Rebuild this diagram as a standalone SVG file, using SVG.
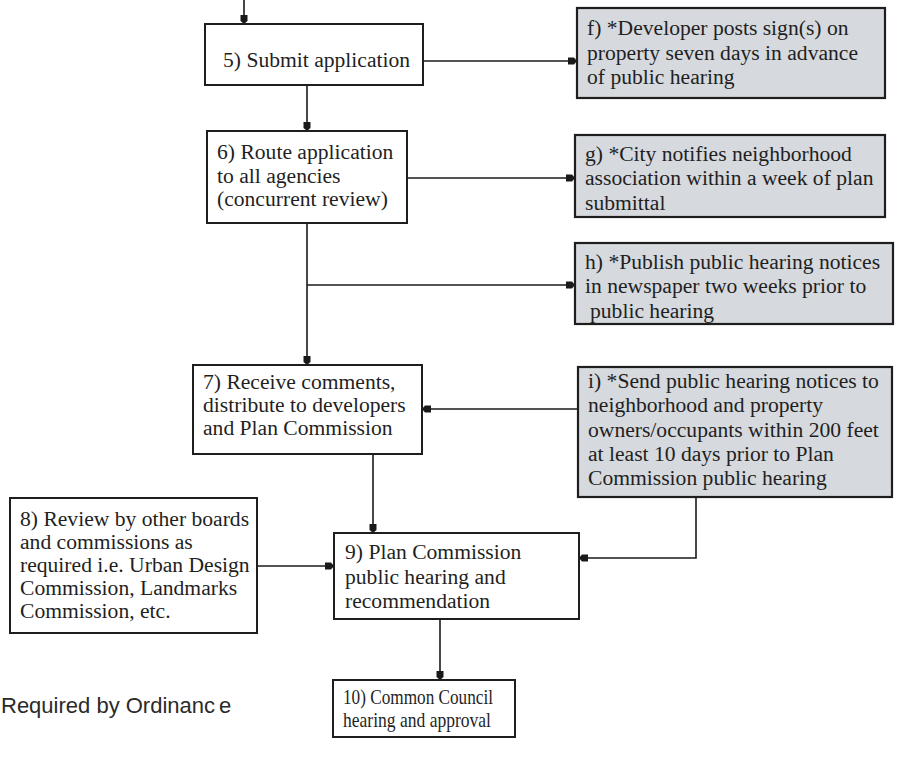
<svg xmlns="http://www.w3.org/2000/svg" width="898" height="772" viewBox="0 0 898 772">
<style>
.box{fill:#ffffff;stroke:#1e1e1e;stroke-width:2}
.req{fill:#d6d9dd;stroke:#1e1e1e;stroke-width:2.2}
.t{font-family:"Liberation Serif","Times New Roman",serif;font-size:21.6px;fill:#1f1f1f}
.s{font-size:21px}
.c{fill:none;stroke:#1a1a1a;stroke-width:1.6}
.leg{font-family:"Liberation Sans",Arial,sans-serif;font-size:22px;fill:#2a2a2a}
</style>
<defs>
<marker id="ah" markerUnits="userSpaceOnUse" markerWidth="12" markerHeight="10" refX="9" refY="5" orient="auto">
<path d="M0,1.5 L6,1.5 L9,5 L6,8.5 L0,8.5 Z" fill="#1a1a1a"/>
</marker>
</defs>
<rect width="898" height="772" fill="#ffffff"/>

<g id="connectors">
<path class="c" d="M244,0 V24" marker-end="url(#ah)"/>
<path class="c" d="M307,85 V131" marker-end="url(#ah)"/>
<path class="c" d="M423,61 H577" marker-end="url(#ah)"/>
<path class="c" d="M407,178 H575" marker-end="url(#ah)"/>
<path class="c" d="M307,223 V365" marker-end="url(#ah)"/>
<path class="c" d="M307,285 H575" marker-end="url(#ah)"/>
<path class="c" d="M578,409 H422" marker-end="url(#ah)"/>
<path class="c" d="M373,454 V533" marker-end="url(#ah)"/>
<path class="c" d="M257,566 H334" marker-end="url(#ah)"/>
<path class="c" d="M696,497 V558 H579" marker-end="url(#ah)"/>
<path class="c" d="M440,619 V680" marker-end="url(#ah)"/>
</g>

<g id="n5">
<rect class="box" x="205" y="24" width="218" height="61"/>
<text class="t" x="223" y="67">5) Submit application</text>
</g>

<g id="nf">
<rect class="req" x="577" y="8" width="308" height="90"/>
<text class="t" x="587" y="35">f) *Developer posts sign(s) on</text>
<text class="t" x="587" y="60">property seven days in advance</text>
<text class="t" x="587" y="84">of public hearing</text>
</g>

<g id="n6">
<rect class="box" x="207" y="131" width="200" height="92"/>
<text class="t" x="217" y="159">6) Route application</text>
<text class="t" x="217" y="183">to all agencies</text>
<text class="t" x="217" y="206">(concurrent review)</text>
</g>

<g id="ng">
<rect class="req" x="575" y="135" width="310" height="82"/>
<text class="t" x="585" y="161">g) *City notifies neighborhood</text>
<text class="t" x="585" y="185">association within a week of plan</text>
<text class="t" x="585" y="210">submittal</text>
</g>

<g id="nh">
<rect class="req" x="575" y="243" width="318" height="81"/>
<text class="t" x="585" y="269">h) *Publish public hearing notices</text>
<text class="t" x="585" y="293">in newspaper two weeks prior to</text>
<text class="t" x="590" y="318">public hearing</text>
</g>

<g id="n7">
<rect class="box" x="193" y="365" width="229" height="89"/>
<text class="t" x="203" y="389">7) Receive comments,</text>
<text class="t" x="203" y="412">distribute to developers</text>
<text class="t" x="203" y="435">and Plan Commission</text>
</g>

<g id="ni">
<rect class="req" x="578" y="367" width="314" height="130"/>
<text class="t" x="588" y="388">i) *Send public hearing notices to</text>
<text class="t" x="588" y="412">neighborhood and property</text>
<text class="t" x="588" y="437">owners/occupants within 200 feet</text>
<text class="t" x="588" y="461">at least 10 days prior to Plan</text>
<text class="t" x="588" y="485">Commission public hearing</text>
</g>

<g id="n8">
<rect class="box" x="10" y="498" width="247" height="135"/>
<text class="t" x="20" y="526">8) Review by other boards</text>
<text class="t" x="20" y="549">and commissions as</text>
<text class="t" x="20" y="572">required i.e. Urban Design</text>
<text class="t" x="20" y="595">Commission, Landmarks</text>
<text class="t" x="20" y="618">Commission, etc.</text>
</g>

<g id="n9">
<rect class="box" x="334" y="533" width="245" height="86"/>
<text class="t" x="345" y="559">9) Plan Commission</text>
<text class="t" x="345" y="584">public hearing and</text>
<text class="t" x="345" y="608">recommendation</text>
</g>

<g id="n10">
<rect class="box" x="333" y="680" width="182" height="57"/>
<text class="t s" x="343" y="704" textLength="150" lengthAdjust="spacingAndGlyphs">10) Common Council</text>
<text class="t s" x="343" y="727" textLength="148" lengthAdjust="spacingAndGlyphs">hearing and approval</text>
</g>

<text class="leg" x="1" y="713">Required by Ordinanc<tspan dx="4">e</tspan></text>
</svg>
